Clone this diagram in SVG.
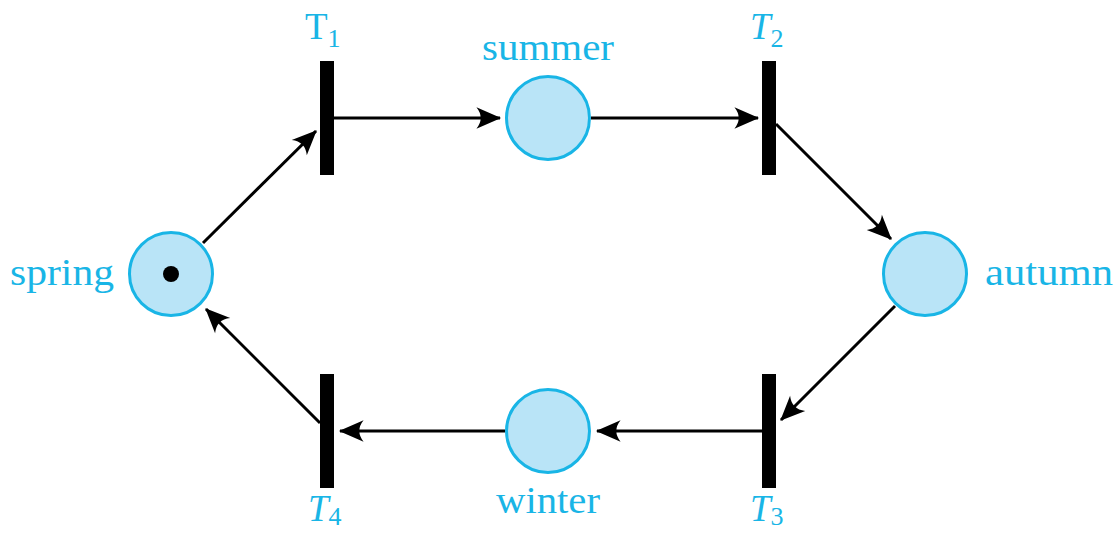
<svg xmlns="http://www.w3.org/2000/svg" width="1116" height="533" viewBox="0 0 1116 533">
  <style>
    .place { fill: #b9e4f7; stroke: #19b5e6; stroke-width: 3; }
    .trans { fill: #000; }
    .lbl { fill: #19b5e6; font-family: "Liberation Serif", "DejaVu Serif", serif; font-size: 37px; }
    .it { font-style: italic; }
    .sub { font-size: 26px; }
    .arc { stroke: #000; stroke-width: 3; fill: none; marker-end: url(#head); }
  </style>
  <defs>
    <marker id="head" markerUnits="userSpaceOnUse" markerWidth="30" markerHeight="30" viewBox="-24 -12 28 24" refX="0" refY="0" orient="auto">
      <path d="M1,0 L-22,-10 Q-14,0 -22,10 Z" fill="#000"/>
    </marker>
  </defs>
  <rect width="1116" height="533" fill="#fff"/>

  <!-- arcs of the net -->
  <g id="connectors">
    <line class="arc" x1="203" y1="243" x2="316" y2="131"/>
    <line class="arc" x1="334" y1="118" x2="500" y2="118"/>
    <line class="arc" x1="591" y1="118" x2="758" y2="118"/>
    <line class="arc" x1="776" y1="124" x2="891" y2="239"/>
    <line class="arc" x1="895" y1="306" x2="781" y2="420"/>
    <line class="arc" x1="762" y1="431" x2="597" y2="431"/>
    <line class="arc" x1="505" y1="431" x2="340" y2="431"/>
    <line class="arc" x1="320" y1="423" x2="206" y2="309"/>
  </g>

  <!-- places -->
  <g id="spring">
    <circle class="place" cx="171" cy="274" r="41.5"/>
    <circle cx="171" cy="274" r="8" fill="#000"/>
    <text class="lbl" x="10" y="285" textLength="104" lengthAdjust="spacingAndGlyphs">spring</text>
  </g>
  <g id="summer">
    <circle class="place" cx="548" cy="118" r="41.5"/>
    <text class="lbl" x="482" y="60" textLength="132" lengthAdjust="spacingAndGlyphs">summer</text>
  </g>
  <g id="autumn">
    <circle class="place" cx="925" cy="274" r="41.5"/>
    <text class="lbl" x="985" y="285" textLength="128" lengthAdjust="spacingAndGlyphs">autumn</text>
  </g>
  <g id="winter">
    <circle class="place" cx="548" cy="431" r="41.5"/>
    <text class="lbl" x="496" y="513" textLength="104" lengthAdjust="spacingAndGlyphs">winter</text>
  </g>

  <!-- transitions -->
  <g id="T1">
    <rect class="trans" x="320" y="61" width="14" height="114"/>
    <text class="lbl" x="305" y="39">T<tspan class="sub" dy="8">1</tspan></text>
  </g>
  <g id="T2">
    <rect class="trans" x="762" y="61" width="14" height="114"/>
    <text class="lbl it" x="750" y="39">T<tspan class="sub" dy="8" font-style="normal">2</tspan></text>
  </g>
  <g id="T3">
    <rect class="trans" x="762" y="374" width="14" height="114"/>
    <text class="lbl it" x="750" y="521">T<tspan class="sub" dy="4" font-style="normal">3</tspan></text>
  </g>
  <g id="T4">
    <rect class="trans" x="320" y="374" width="14" height="114"/>
    <text class="lbl it" x="308" y="521">T<tspan class="sub" dy="4" font-style="normal">4</tspan></text>
  </g>
</svg>
